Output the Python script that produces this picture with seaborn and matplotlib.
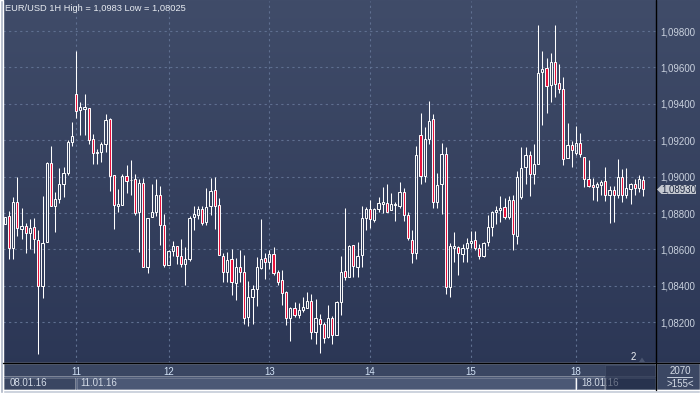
import numpy as np
import matplotlib
matplotlib.use("Agg")
import matplotlib.pyplot as plt
import seaborn as sns
from matplotlib.patches import Rectangle, Polygon
from matplotlib.lines import Line2D
from matplotlib.colors import LinearSegmentedColormap
from matplotlib.ticker import FuncFormatter

# ---------------- data (EUR/USD hourly candles) ----------------
opens = [
    1.08738, 1.08783, 1.08605, 1.08858, 1.08714, 1.08726, 1.08688, 1.08721, 1.08651, 1.08400,
    1.08638, 1.09073, 1.08840, 1.08875, 1.08957, 1.09018, 1.09188, 1.09452, 1.09367, 1.09373,
    1.09375, 1.09206, 1.09131, 1.09133, 1.09177, 1.09314, 1.09008, 1.08840, 1.08843, 1.09003,
    1.08982, 1.08986, 1.08805, 1.08966, 1.08503, 1.08777, 1.08803, 1.08898, 1.08733, 1.08512,
    1.08590, 1.08620, 1.08563, 1.08521, 1.08550, 1.08777, 1.08790, 1.08823, 1.08750, 1.08836,
    1.08926, 1.08843, 1.08564, 1.08478, 1.08548, 1.08418, 1.08502, 1.08474, 1.08227, 1.08337,
    1.08383, 1.08496, 1.08551, 1.08533, 1.08575, 1.08474, 1.08432, 1.08364, 1.08222, 1.08277,
    1.08238, 1.08266, 1.08277, 1.08317, 1.08148, 1.08220, 1.08189, 1.08121, 1.08224, 1.08129,
    1.08311, 1.08483, 1.08446, 1.08622, 1.08501, 1.08567, 1.08771, 1.08820, 1.08764, 1.08820,
    1.08851, 1.08853, 1.08815, 1.08844, 1.08841, 1.08914, 1.08789, 1.08651, 1.08580, 1.09227,
    1.09005, 1.09209, 1.09315, 1.08862, 1.08958, 1.09122, 1.08391, 1.08608, 1.08612, 1.08574,
    1.08605, 1.08634, 1.08652, 1.08610, 1.08566, 1.08638, 1.08725, 1.08808, 1.08817, 1.08831,
    1.08780, 1.08872, 1.08676, 1.08890, 1.09054, 1.09118, 1.09012, 1.09067, 1.09576, 1.09594,
    1.09506, 1.09632, 1.09512, 1.09481, 1.09101, 1.09174, 1.09128, 1.09185, 1.09105, 1.08988,
    1.08953, 1.08941, 1.08955, 1.08975, 1.08897, 1.08928, 1.08897, 1.08997, 1.08900, 1.08933,
    1.08959, 1.08937, 1.08982,
]
highs = [
    1.08780, 1.08811, 1.08886, 1.08997, 1.08825, 1.08745, 1.08765, 1.08770, 1.08706, 1.08893,
    1.09082, 1.09168, 1.08913, 1.09047, 1.09051, 1.09200, 1.09298, 1.09690, 1.09411, 1.09453,
    1.09377, 1.09234, 1.09151, 1.09188, 1.09344, 1.09320, 1.09008, 1.08933, 1.09015, 1.09061,
    1.09092, 1.09015, 1.08988, 1.08992, 1.08774, 1.08960, 1.08988, 1.08948, 1.08796, 1.08596,
    1.08647, 1.08620, 1.08658, 1.08614, 1.08786, 1.08838, 1.08838, 1.08841, 1.08937, 1.08993,
    1.08997, 1.08882, 1.08579, 1.08584, 1.08601, 1.08551, 1.08597, 1.08570, 1.08427, 1.08405,
    1.08557, 1.08766, 1.08579, 1.08597, 1.08612, 1.08487, 1.08487, 1.08374, 1.08286, 1.08311,
    1.08304, 1.08339, 1.08364, 1.08353, 1.08328, 1.08247, 1.08203, 1.08295, 1.08236, 1.08315,
    1.08565, 1.08826, 1.08625, 1.08625, 1.08642, 1.08837, 1.08831, 1.08870, 1.08830, 1.08886,
    1.08941, 1.08957, 1.08908, 1.08859, 1.08968, 1.08935, 1.08808, 1.08707, 1.09167, 1.09351,
    1.09273, 1.09414, 1.09346, 1.09018, 1.09182, 1.09162, 1.08634, 1.08694, 1.08621, 1.08630,
    1.08661, 1.08702, 1.08702, 1.08630, 1.08638, 1.08789, 1.08813, 1.08839, 1.08894, 1.08884,
    1.08895, 1.08899, 1.09031, 1.09162, 1.09160, 1.09140, 1.09179, 1.09831, 1.09689, 1.09652,
    1.09680, 1.09831, 1.09616, 1.09548, 1.09296, 1.09196, 1.09278, 1.09242, 1.09108, 1.09092,
    1.08992, 1.08968, 1.08984, 1.09054, 1.08950, 1.08950, 1.09097, 1.09041, 1.09046, 1.08964,
    1.08988, 1.09010, 1.09004,
]
lows = [
    1.08738, 1.08545, 1.08545, 1.08675, 1.08657, 1.08578, 1.08602, 1.08578, 1.08023, 1.08331,
    1.08638, 1.08838, 1.08697, 1.08853, 1.08889, 1.09008, 1.09168, 1.09323, 1.09228, 1.09228,
    1.09177, 1.09071, 1.09071, 1.09078, 1.09137, 1.08922, 1.08712, 1.08807, 1.08843, 1.08909,
    1.08900, 1.08790, 1.08583, 1.08503, 1.08473, 1.08777, 1.08781, 1.08622, 1.08503, 1.08512,
    1.08561, 1.08519, 1.08503, 1.08402, 1.08539, 1.08704, 1.08768, 1.08732, 1.08735, 1.08790,
    1.08713, 1.08567, 1.08423, 1.08423, 1.08352, 1.08324, 1.08423, 1.08190, 1.08181, 1.08190,
    1.08289, 1.08491, 1.08438, 1.08491, 1.08462, 1.08405, 1.08297, 1.08187, 1.08097, 1.08227,
    1.08225, 1.08258, 1.08277, 1.08110, 1.08079, 1.08033, 1.08088, 1.08112, 1.08081, 1.08129,
    1.08238, 1.08432, 1.08446, 1.08446, 1.08446, 1.08501, 1.08705, 1.08720, 1.08749, 1.08804,
    1.08799, 1.08804, 1.08815, 1.08758, 1.08826, 1.08758, 1.08651, 1.08525, 1.08549, 1.08959,
    1.08972, 1.09178, 1.08826, 1.08826, 1.08793, 1.08356, 1.08341, 1.08533, 1.08460, 1.08533,
    1.08533, 1.08610, 1.08597, 1.08546, 1.08557, 1.08616, 1.08671, 1.08738, 1.08753, 1.08767,
    1.08766, 1.08597, 1.08630, 1.08877, 1.08958, 1.08895, 1.08958, 1.09067, 1.09283, 1.09351,
    1.09411, 1.09439, 1.09461, 1.09065, 1.09101, 1.09055, 1.09119, 1.09105, 1.08941, 1.08944,
    1.08873, 1.08868, 1.08900, 1.08868, 1.08745, 1.08751, 1.08882, 1.08860, 1.08882, 1.08851,
    1.08900, 1.08913, 1.08891,
]
closes = [
    1.08780, 1.08605, 1.08858, 1.08715, 1.08726, 1.08688, 1.08715, 1.08655, 1.08400, 1.08633,
    1.09073, 1.08838, 1.08875, 1.08957, 1.09018, 1.09188, 1.09221, 1.09362, 1.09380, 1.09380,
    1.09203, 1.09131, 1.09135, 1.09177, 1.09311, 1.09001, 1.08842, 1.08849, 1.09003, 1.08975,
    1.08979, 1.08799, 1.08964, 1.08503, 1.08774, 1.08805, 1.08898, 1.08733, 1.08512, 1.08590,
    1.08620, 1.08563, 1.08521, 1.08545, 1.08774, 1.08796, 1.08823, 1.08746, 1.08832, 1.08922,
    1.08841, 1.08567, 1.08478, 1.08542, 1.08423, 1.08502, 1.08474, 1.08222, 1.08339, 1.08383,
    1.08502, 1.08546, 1.08529, 1.08573, 1.08473, 1.08423, 1.08363, 1.08222, 1.08278, 1.08238,
    1.08267, 1.08284, 1.08317, 1.08148, 1.08222, 1.08189, 1.08115, 1.08222, 1.08129, 1.08311,
    1.08476, 1.08448, 1.08620, 1.08507, 1.08563, 1.08771, 1.08820, 1.08766, 1.08820, 1.08853,
    1.08859, 1.08808, 1.08848, 1.08850, 1.08914, 1.08789, 1.08662, 1.08580, 1.09116, 1.09005,
    1.09209, 1.09304, 1.08859, 1.08954, 1.09122, 1.08391, 1.08616, 1.08618, 1.08579, 1.08610,
    1.08634, 1.08647, 1.08605, 1.08561, 1.08634, 1.08722, 1.08808, 1.08817, 1.08828, 1.08780,
    1.08872, 1.08683, 1.08996, 1.09045, 1.09118, 1.09012, 1.09069, 1.09570, 1.09590, 1.09499,
    1.09632, 1.09510, 1.09484, 1.09096, 1.09174, 1.09147, 1.09185, 1.09123, 1.08986, 1.08951,
    1.08941, 1.08959, 1.08972, 1.08897, 1.08928, 1.08897, 1.08997, 1.08897, 1.08939, 1.08959,
    1.08937, 1.08988, 1.08930,
]
day_labels = ["11", "12", "13", "14", "15", "18"]
day_index = [17, 39, 63, 87, 111, 136]
date_labels = ["08.01.16", "11.01.16", "18.01.16"]
price_ticks = [1.082, 1.084, 1.086, 1.088, 1.090, 1.092, 1.094, 1.096, 1.098]
title_text = "EUR/USD 1H High = 1,0983 Low = 1,08025"
last_price_text = "1,08930"
corner_top_text = "2070"
corner_bottom_text = ">155<"
marker_text = "2"

# ---------------- style ----------------
sns.set_theme(style="dark")
plt.rcParams["font.family"] = ["Liberation Sans", "DejaVu Sans"]

W, H = 700, 393
fig = plt.figure(figsize=(7, 3.93), dpi=100)
FS = 7


def fx(x):
    return x / W


def fy(y):
    return 1 - y / H


# gradient background for whole figure
bg = fig.add_axes([0, 0, 1, 1], zorder=0)
cmap = LinearSegmentedColormap.from_list("bg", ["#404c69", "#2a3554"])
bg.imshow(np.linspace(0, 1, 256)[:, None], aspect="auto", cmap=cmap, extent=[0, 1, 0, 1])
bg.set_axis_off()

# main axes
ax = fig.add_axes([fx(3), fy(363), fx(656) - fx(3), (363 - 1) / H], zorder=1)
ax.patch.set_alpha(0)
for s in ax.spines.values():
    s.set_visible(False)

idx = np.arange(len(opens))
o = np.array(opens)
c = np.array(closes)
hi = np.array(highs)
lo = np.array(lows)
bull = c >= o
body_lo = np.minimum(o, c)
body_hi = np.maximum(o, c)
height = np.maximum(body_hi - body_lo, 0.00001)

ax.vlines(idx, lo, body_lo, color="white", lw=0.75, zorder=3)
ax.vlines(idx, body_hi, hi, color="white", lw=0.75, zorder=3)
ax.bar(idx[bull], height[bull], bottom=body_lo[bull], width=0.5,
       facecolor="none", edgecolor="white", linewidth=0.7, zorder=4)
ax.bar(idx[~bull], height[~bull], bottom=body_lo[~bull], width=0.5,
       facecolor="#e8123c", edgecolor="white", linewidth=0.7, zorder=4)

step = 4.2
x0 = 4.7
ax.set_xlim((3 - x0) / step, (656 - x0) / step)
ppx = 0.002 / 36.4
ax.set_ylim(1.098 - (363 - 31) * ppx, 1.098 + 30 * ppx)

ax.set_xticks(day_index)
ax.set_xticklabels(day_labels)
ax.set_yticks(price_ticks)
ax.yaxis.tick_right()
ax.yaxis.set_major_formatter(FuncFormatter(lambda v, p: f"{v:.5f}".replace(".", ",")))
ax.tick_params(axis="x", length=0, pad=3.2, labelsize=FS, labelcolor="#d2e2f6")
ax.tick_params(axis="y", length=0, pad=3, labelsize=FS, labelcolor="#c9d1de")
ax.grid(True, color="#5f6f90", linestyle=(0, (2, 3)), linewidth=0.8)


def rect(x1, y1, x2, y2, color, z=0.5, **kw):
    fig.add_artist(Rectangle((fx(x1), fy(y2)), fx(x2) - fx(x1), (y2 - y1) / H,
                             transform=fig.transFigure, facecolor=color, zorder=z, **kw))


def ftext(x, y, s, z=0.7, **kw):
    fig.text(fx(x), fy(y), s, zorder=z, **kw)


# bottom panel
rect(3, 363, 656, 377, "#3a4662")
rect(3, 377, 76, 390, "#3a4662")
rect(76, 377, 576, 390, "#4b5875")
rect(576, 377, 605, 390, "#3d4966")
rect(656, 363, 700, 390, "#3b4763")
fig.add_artist(Line2D([fx(76), fx(76)], [fy(377), fy(390)], color="#5d6a86", lw=0.8,
                      transform=fig.transFigure, zorder=0.6))
fig.add_artist(Line2D([fx(576.5), fx(576.5)], [fy(377), fy(390)], color="#5d6a86", lw=0.8,
                      transform=fig.transFigure, zorder=0.6))
fig.add_artist(Line2D([fx(3), fx(656)], [fy(377), fy(377)], color="#4f5c79", lw=0.8,
                      transform=fig.transFigure, zorder=0.6))

ftext(10, 383.5, date_labels[0], fontsize=FS, color="#d2dae6", va="center", ha="left")
ftext(80, 383.5, date_labels[1], fontsize=FS, color="#d2dae6", va="center", ha="left")
ftext(581, 383.5, date_labels[2], fontsize=FS, color="#d2dae6", va="center", ha="left")

# dark navigator box (semi-transparent over the last date label)
rect(605, 365, 655, 389, "#26304a", z=0.8, alpha=0.6, edgecolor="#46526c", linewidth=0.8)
fig.add_artist(Polygon([(fx(639), fy(362)), (fx(642), fy(357.5)), (fx(645), fy(362))],
                       closed=True, transform=fig.transFigure, facecolor="#4a5570",
                       edgecolor="none", zorder=2))
ftext(633, 357.5, marker_text, z=2, fontsize=FS, color="#eef1f6", va="center", ha="center")

# right corner texts
ftext(680, 370.5, corner_top_text, z=2, fontsize=FS, color="#d4dbe6", va="center", ha="center")
ftext(680, 384, corner_bottom_text, z=2, fontsize=FS, color="#d4dbe6", va="center", ha="center")
fig.add_artist(Line2D([fx(667), fx(692)], [fy(377), fy(377)], color="#c8d0dc", lw=0.7,
                      transform=fig.transFigure, zorder=2))

# borders and separators
rect(0, 390, 700, 393, "#c3cad6", z=2)
rect(0, 0, 2.5, 393, "#aab3c4", z=2)
fig.add_artist(Line2D([fx(656), fx(656)], [fy(0), fy(390)], color="black", lw=1,
                      transform=fig.transFigure, zorder=2))
fig.add_artist(Line2D([fx(3), fx(700)], [fy(363), fy(363)], color="black", lw=1,
                      transform=fig.transFigure, zorder=2))

# last price marker
fig.add_artist(Polygon([(fx(657), fy(189.5)), (fx(661.5), fy(185)), (fx(696), fy(185)),
                        (fx(696), fy(194)), (fx(661.5), fy(194))], closed=True,
                       transform=fig.transFigure, facecolor="#c5c9d1", edgecolor="none", zorder=2))
ftext(678.5, 189.6, last_price_text, z=3, fontsize=FS, color="#1f2a44", va="center", ha="center")

# title
ftext(5, 8.5, title_text, z=3, fontsize=6.7, color="#e8ecf2", va="center", ha="left")

fig.savefig("out.png", dpi=100)
